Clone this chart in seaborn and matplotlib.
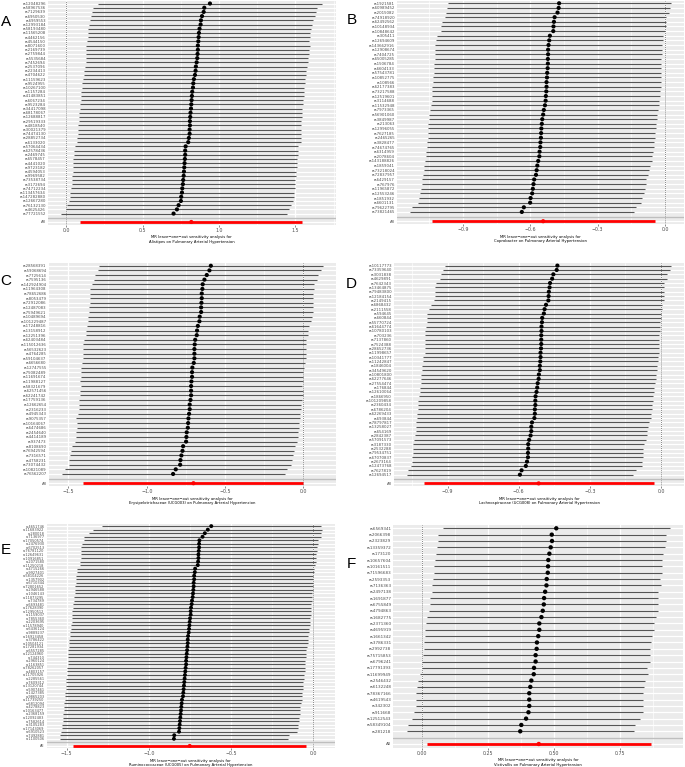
import numpy as np
import pandas as pd
import matplotlib
matplotlib.use("Agg")
import matplotlib.pyplot as plt
import seaborn as sns
from matplotlib.ticker import FixedLocator, MultipleLocator

W, H, DPI = 685, 767, 100

# ---------------- data ----------------
snps_A = ["rs12048296", "rs58967536", "rs7129639", "rs6950530", "rs6959553", "rs12993184", "rs58193480",
          "rs11565208", "rs4462156", "rs4544150", "rs8071600", "rs2169739", "rs2759844", "rs5535684",
          "rs7452694", "rs2537096", "rs2234413", "rs4704622", "rs11159623", "rs9524955", "rs10267100",
          "rs1157284", "rs41483851", "rs6067234", "rs9523284", "rs34417098", "rs68178067", "rs12688817",
          "rs29519333", "rs4818540", "rs30021379", "rs74474130", "rs28852734", "rs6133020", "rs57064434",
          "rs62578436", "rs2469745", "rs6578457", "rs4441020", "rs9723182", "rs4594053", "rs9969582",
          "rs73538734", "rs3172694", "rs74712234", "rs113457634", "rs147282880", "rs12667280",
          "rs76132130", "rs4625426", "rs77721552"]
b_A = [0.941, 0.904, 0.900, 0.889, 0.882, 0.880, 0.873, 0.869, 0.867, 0.865,
       0.862, 0.862, 0.860, 0.858, 0.854, 0.849, 0.847, 0.843, 0.836, 0.832,
       0.830, 0.825, 0.823, 0.821, 0.819, 0.817, 0.814, 0.812, 0.810, 0.810, 0.808,
       0.808, 0.803, 0.799, 0.782, 0.779, 0.779, 0.777, 0.775, 0.773, 0.771,
       0.769, 0.766, 0.764, 0.760, 0.758, 0.753, 0.751, 0.736, 0.725, 0.703]
lo_A = [0.207, 0.179, 0.170, 0.166, 0.155, 0.151, 0.144, 0.142, 0.140, 0.135,
        0.133, 0.131, 0.131, 0.127, 0.127, 0.122, 0.118, 0.114, 0.109, 0.107,
        0.105, 0.100, 0.098, 0.096, 0.092, 0.092, 0.087, 0.087, 0.083, 0.081, 0.079,
        0.076, 0.074, 0.070, 0.057, 0.052, 0.052, 0.048, 0.046, 0.044, 0.044,
        0.039, 0.039, 0.037, 0.031, 0.028, 0.024, 0.022, 0.007, 0.000, -0.033]
up_A = [1.677, 1.640, 1.633, 1.629, 1.616, 1.611, 1.600, 1.598, 1.596, 1.592,
        1.594, 1.592, 1.590, 1.585, 1.583, 1.574, 1.572, 1.568, 1.566, 1.561,
        1.557, 1.555, 1.555, 1.552, 1.550, 1.546, 1.544, 1.541, 1.539, 1.539, 1.539,
        1.539, 1.539, 1.535, 1.517, 1.515, 1.515, 1.513, 1.511, 1.509, 1.507,
        1.504, 1.498, 1.498, 1.496, 1.493, 1.489, 1.485, 1.474, 1.459, 1.445]
all_A = [0.819, 0.094, 1.541]

snps_B = ["rs1921581", "rs60989452", "rs2015082", "rs74918920", "rs62492562", "rs10148934", "rs10848642",
          "rs305411", "rs12694609", "rs143662916", "rs12908674", "rs7404725", "rs65005285", "rs1506784",
          "rs6604133", "rs57543781", "rs10852775", "rs108566", "rs62177383", "rs73217588", "rs12519601",
          "rs3114688", "rs11532948", "rs7973365", "rs56901060", "rs3849987", "rs213063", "rs12996055",
          "rs7627185", "rs2465265", "rs3828477", "rs74674765", "rs6314959", "rs2078604", "rs143188826",
          "rs1859041", "rs73218024", "rs72837957", "rs6429157", "rs767976", "rs11965872", "rs12553246",
          "rs1851932", "rs6601131", "rs79622795", "rs73821465"]
b_B = [-0.472, -0.474, -0.479, -0.492, -0.495, -0.497, -0.498, -0.513, -0.516, -0.519,
       -0.521, -0.521, -0.522, -0.522, -0.523, -0.525, -0.526, -0.528, -0.528, -0.529,
       -0.531, -0.532, -0.535, -0.540, -0.543, -0.547, -0.549, -0.551,
       -0.552, -0.553, -0.555, -0.556, -0.559, -0.560, -0.565, -0.569, -0.572, -0.575,
       -0.583, -0.586, -0.589, -0.592, -0.599, -0.601, -0.629, -0.638]
lo_B = [-0.967, -0.971, -0.974, -0.982, -0.995, -0.996, -0.998, -1.014, -1.020, -1.023,
        -1.023, -1.025, -1.026, -1.028, -1.029, -1.031, -1.032, -1.034, -1.036, -1.036,
        -1.038, -1.039, -1.042, -1.048, -1.050, -1.053, -1.056, -1.057,
        -1.056, -1.057, -1.059, -1.060, -1.065, -1.066, -1.071, -1.072, -1.072, -1.077,
        -1.082, -1.084, -1.088, -1.091, -1.097, -1.100, -1.127, -1.136]
up_B = [0.025, 0.024, 0.019, 0.003, 0.003, 0.003, 0.001, -0.007, -0.010, -0.013,
        -0.013, -0.015, -0.018, -0.018, -0.018, -0.019, -0.019, -0.019, -0.019, -0.021,
        -0.022, -0.025, -0.025, -0.031, -0.034, -0.037, -0.040, -0.042,
        -0.043, -0.044, -0.049, -0.049, -0.053, -0.056, -0.059, -0.067, -0.073, -0.074,
        -0.085, -0.087, -0.090, -0.092, -0.104, -0.105, -0.130, -0.138]
all_B = [-0.543, -1.039, -0.046]

snps_C = ["rs28568391", "rs59068694", "rs7725614", "rs7595136", "rs142924904", "rs11964308", "rs78652686",
          "rs8053479", "rs72912086", "rs12487083", "rs75949621", "rs10489694", "rs101229487", "rs17248816",
          "rs13158912", "rs12251396", "rs62403484", "rs115012636", "rs56532623", "rs4764285", "rs59104637",
          "rs6656680", "rs12747555", "rs75082489", "rs11691674", "rs11988127", "rs58321679", "rs62571456",
          "rs62241742", "rs17759136", "rs12662654", "rs2316233", "rs4945343", "rs9075357", "rs10164067",
          "rs6474686", "rs2454640", "rs4414189", "rs937473", "rs8108690", "rs76942594", "rs7316571",
          "rs4758231", "rs73074432", "rs10821089", "rs76562207"]
b_C = [-0.591, -0.600, -0.617, -0.632, -0.643, -0.645, -0.649, -0.649, -0.651, -0.653,
       -0.653, -0.662, -0.664, -0.674, -0.679, -0.681, -0.691, -0.694, -0.696, -0.696,
       -0.696, -0.700, -0.709, -0.711, -0.711, -0.715,
       -0.717, -0.717, -0.717, -0.721, -0.726, -0.726, -0.730, -0.734, -0.736, -0.738,
       -0.745, -0.747, -0.749, -0.768, -0.772, -0.779, -0.785, -0.787, -0.815, -0.832]
lo_C = [-1.304, -1.313, -1.330, -1.338, -1.349, -1.362, -1.362, -1.362, -1.364, -1.368,
        -1.368, -1.374, -1.374, -1.381, -1.385, -1.389, -1.404, -1.406, -1.406, -1.409,
        -1.409, -1.413, -1.417, -1.419, -1.421, -1.426,
        -1.421, -1.426, -1.426, -1.430, -1.436, -1.436, -1.438, -1.449, -1.443, -1.447,
        -1.453, -1.453, -1.457, -1.477, -1.483, -1.489, -1.494, -1.496, -1.523, -1.543]
up_C = [0.123, 0.113, 0.096, 0.085, 0.068, 0.070, 0.064, 0.064, 0.062, 0.062,
        0.064, 0.055, 0.047, 0.036, 0.032, 0.032, 0.019, 0.019, 0.017, 0.017,
        0.015, 0.011, 0.004, 0.000, -0.002, -0.002,
        -0.006, 0.000, 0.000, -0.011, -0.017, -0.015, -0.019, -0.021, -0.026, -0.028,
        -0.034, -0.036, -0.043, -0.053, -0.060, -0.064, -0.070, -0.077, -0.106, -0.119]
all_C = [-0.702, -1.406, -0.001]

snps_D = ["rs10117773", "rs73359640", "rs3031838", "rs4629891", "rs7642343", "rs13464875", "rs79483800",
          "rs12184154", "rs2149415", "rs6868432", "rs2111558", "rs594645", "rs660844", "rs55770724",
          "rs61644774", "rs10780103", "rs703236", "rs7137860", "rs7524388", "rs28652736", "rs11998657",
          "rs10341777", "rs11242847", "rs1846004", "rs34549620", "rs10801800", "rs62277646", "rs27554474",
          "rs176844", "rs12610064", "rs1866950", "rs101209858", "rs2360434", "rs6786204", "rs62269433",
          "rs693844", "rs78797817", "rs13258027", "rs654169", "rs2842387", "rs57091573", "rs3187330",
          "rs2532288", "rs79534751", "rs67070837", "rs2673164", "rs12473768", "rs7627819", "rs12694517"]
b_D = [-0.437, -0.440, -0.454, -0.459, -0.468, -0.470, -0.473, -0.474, -0.475, -0.485,
       -0.491, -0.494, -0.501, -0.502, -0.504, -0.504, -0.505, -0.505, -0.505, -0.506,
       -0.508, -0.508, -0.509, -0.511, -0.511, -0.515, -0.516, -0.520,
       -0.522, -0.525, -0.529, -0.530, -0.530, -0.532, -0.532, -0.534, -0.544, -0.547,
       -0.547, -0.550, -0.556, -0.560, -0.560, -0.561, -0.561, -0.565, -0.570, -0.588, -0.595]
lo_D = [-0.911, -0.921, -0.928, -0.932, -0.947, -0.951, -0.952, -0.954, -0.958, -0.968,
        -0.980, -0.985, -0.986, -0.986, -0.992, -0.993, -0.994, -0.996, -0.996, -0.996,
        -0.997, -1.003, -1.004, -1.006, -1.007, -1.010, -1.011, -1.013,
        -1.015, -1.016, -1.019, -1.024, -1.024, -1.025, -1.030, -1.028, -1.031, -1.032,
        -1.034, -1.038, -1.042, -1.044, -1.045, -1.046, -1.048, -1.051, -1.055, -1.065, -1.070]
up_D = [0.041, 0.039, 0.025, 0.025, 0.014, 0.014, 0.013, 0.011, 0.011, 0.004,
        0.003, 0.000, -0.001, -0.003, -0.004, -0.004, -0.007, -0.007, -0.007, -0.007,
        -0.007, -0.011, -0.014, -0.017, -0.018, -0.021, -0.023, -0.024,
        -0.028, -0.030, -0.032, -0.035, -0.037, -0.039, -0.042, -0.044, -0.052, -0.056,
        -0.059, -0.060, -0.065, -0.073, -0.075, -0.075, -0.077, -0.080, -0.082, -0.107, -0.117]
all_D = [-0.516, -1.000, -0.031]

snps_E = ["rs4651746", "rs11683922", "rs280018", "rs7136977", "rs17050574", "rs2476930", "rs6702513",
          "rs76781120", "rs12649631", "rs10916851", "rs2071580", "rs11250218", "rs4715266", "rs9927401",
          "rs58104226", "rs1357902", "rs6710344", "rs72801652", "rs2946588", "rs1046143", "rs11873295",
          "rs734789", "rs6693481", "rs17628390", "rs12950512", "rs1159037", "rs7855360", "rs2203695",
          "rs11578940", "rs6436124", "rs9889237", "rs16913458", "rs3786422", "rs10504121", "rs17281934",
          "rs6557285", "rs12124960", "rs744310", "rs2960124", "rs1163851", "rs78262057", "rs4803157",
          "rs11705926", "rs2285561", "rs7609312", "rs13120744", "rs5907461", "rs1427385", "rs9865203",
          "rs11739250", "rs6812094", "rs4278823", "rs10163477", "rs2368159", "rs12092483", "rs7582614",
          "rs3105283", "rs17143069", "rs6910523", "rs7492881", "rs1100506"]
b_E = [-0.620, -0.641, -0.659, -0.673, -0.692, -0.694, -0.694, -0.696, -0.698, -0.698,
       -0.700, -0.702, -0.718, -0.720, -0.724, -0.724, -0.727, -0.727, -0.729, -0.731,
       -0.733, -0.737, -0.739, -0.743, -0.745, -0.745, -0.749, -0.751, -0.753, -0.755,
       -0.757, -0.761, -0.763, -0.763,
       -0.765, -0.767, -0.769, -0.771, -0.773, -0.773, -0.776, -0.778, -0.780, -0.782,
       -0.784, -0.786, -0.788, -0.790, -0.792, -0.798, -0.800, -0.802, -0.804, -0.806,
       -0.808, -0.810, -0.812, -0.814, -0.816, -0.845, -0.847]
lo_E = [-1.282, -1.337, -1.363, -1.392, -1.396, -1.408, -1.410, -1.410, -1.412, -1.414,
        -1.416, -1.420, -1.435, -1.437, -1.441, -1.443, -1.445, -1.447, -1.449, -1.451,
        -1.453, -1.457, -1.459, -1.463, -1.465, -1.465, -1.467, -1.469, -1.471, -1.473,
        -1.476, -1.480, -1.484, -1.486,
        -1.488, -1.490, -1.490, -1.492, -1.492, -1.494, -1.496, -1.496, -1.498, -1.502,
        -1.504, -1.504, -1.506, -1.508, -1.510, -1.512, -1.514, -1.516, -1.518, -1.520,
        -1.522, -1.524, -1.527, -1.529, -1.531, -1.539, -1.541]
up_E = [0.045, 0.051, 0.045, 0.045, 0.031, 0.027, 0.024, 0.022, 0.018, 0.016,
        0.014, 0.012, 0.004, 0.002, 0.000, 0.000, -0.002, -0.002, -0.004, -0.006,
        -0.008, -0.010, -0.012, -0.014, -0.016, -0.016, -0.018, -0.020, -0.022, -0.024,
        -0.027, -0.029, -0.031, -0.033,
        -0.037, -0.041, -0.043, -0.045, -0.047, -0.049, -0.051, -0.053, -0.057, -0.059,
        -0.061, -0.063, -0.065, -0.067, -0.069, -0.071, -0.073, -0.078, -0.080, -0.082,
        -0.084, -0.088, -0.090, -0.094, -0.096, -0.147, -0.151]
all_E = [-0.751, -1.461, -0.041]

snps_F = ["rs6569341", "rs2066398", "rs2323829", "rs13359372", "rs173120", "rs10657604", "rs10161511",
          "rs71596683", "rs2593353", "rs7136363", "rs2497138", "rs1691877", "rs6755849", "rs4794863",
          "rs1682775", "rs2371360", "rs4695919", "rs1661342", "rs3786331", "rs2992738", "rs75715853",
          "rs6796241", "rs17791393", "rs11699949", "rs2546432", "rs6132248", "rs78367166", "rs4619543",
          "rs342302", "rs911668", "rs12512543", "rs58349104", "rs281218"]
b_F = [0.508, 0.491, 0.492, 0.487, 0.482, 0.478, 0.477, 0.476, 0.472, 0.471,
       0.466, 0.462, 0.461, 0.457, 0.452, 0.444, 0.444, 0.440, 0.435, 0.434,
       0.430, 0.430, 0.424, 0.423, 0.414, 0.410, 0.406, 0.406, 0.406, 0.403,
       0.394, 0.376, 0.372]
lo_F = [0.079, 0.063, 0.063, 0.058, 0.053, 0.050, 0.048, 0.045, 0.042, 0.039,
        0.039, 0.033, 0.033, 0.026, 0.021, 0.015, 0.014, 0.011, 0.008, 0.008,
        0.003, 0.001, 0.000, -0.008, -0.016, -0.019, -0.023, -0.020, -0.023, -0.028,
        -0.035, -0.053, -0.057]
up_F = [0.937, 0.921, 0.921, 0.919, 0.912, 0.908, 0.908, 0.907, 0.901, 0.903,
        0.893, 0.893, 0.891, 0.891, 0.883, 0.876, 0.878, 0.871, 0.867, 0.862,
        0.861, 0.861, 0.852, 0.856, 0.844, 0.841, 0.837, 0.834, 0.836, 0.834,
        0.824, 0.807, 0.802]
all_F = [0.442, 0.020, 0.866]

outcome = "Pulmonary Arterial Hypertension"
exposure_A = "Alistipes"
exposure_B = "Coprobacter"
exposure_C = "Erysipelotrichaceae (UCG003)"
exposure_D = "Lachnospiraceae (UCG008)"
exposure_E = "Ruminococcaceae (UCG005)"
exposure_F = "Victivallis"

ticks_A = [0.0, 0.5, 1.0, 1.5]
ticks_B = [-0.9, -0.6, -0.3, 0.0]
ticks_C = [-1.5, -1.0, -0.5, 0.0]
ticks_D = [-0.9, -0.6, -0.3, 0.0]
ticks_E = [-1.5, -1.0, -0.5, 0.0]
ticks_F = [0.00, 0.25, 0.50, 0.75]

# ---------------- style ----------------
sns.set_theme(style="darkgrid")
plt.rcParams['font.family'] = ['DejaVu Sans']
plt.rcParams['axes.unicode_minus'] = True

fig = plt.figure(figsize=(W / DPI, H / DPI), dpi=DPI)


def add_ax(l, t, r, b):
    return fig.add_axes([l / W, 1 - b / H, (r - l) / W, (b - t) / H])


def panel(ax, snps, b, lo, up, allv, exposure, ticks, fmt, ysize, psize):
    n = len(snps)
    df = pd.DataFrame({
        "SNP": list(snps) + ["", "All"],
        "pos": np.arange(n + 2),
        "b": list(b) + [np.nan, allv[0]],
        "lo": list(lo) + [np.nan, allv[1]],
        "up": list(up) + [np.nan, allv[2]],
        "tot": ["snp"] * n + ["gap", "all"],
    })
    ax.set_facecolor("#EBEBEB")
    ax.set_axisbelow(True)
    ax.axvline(0, color="#444444", lw=0.55, ls=(0, (1, 1.6)), zorder=1)
    snp = df[df.tot == "snp"]
    ax.hlines(snp.pos, snp.lo, snp.up, color="#555555", lw=0.8, zorder=2)
    ax.axhline(n, color="#BEBEBE", lw=1.0, zorder=1.5)
    al = df[df.tot == "all"]
    ax.hlines(al.pos, al.lo, al.up, color="#FF0000", lw=2.0, zorder=2)
    sub = df[df.tot != "gap"]
    sns.scatterplot(data=sub, x="b", y="pos", hue="tot", palette={"snp": "black", "all": "red"},
                    s=psize, linewidth=0, marker="o", legend=False, ax=ax, zorder=3)
    lo_min = min(np.nanmin(df.lo), 0.0)
    up_max = max(np.nanmax(df.up), 0.0)
    rng = up_max - lo_min
    ax.set_xlim(lo_min - 0.05 * rng, up_max + 0.05 * rng)
    ax.set_ylim(n + 1 + 0.6, -0.6)
    ax.yaxis.set_major_locator(FixedLocator(df.pos.tolist()))
    ax.set_yticklabels(df.SNP.tolist())
    ax.xaxis.set_major_locator(FixedLocator(ticks))
    ax.set_xticklabels([fmt.format(t).replace("-", "\u2212") for t in ticks])
    step = ticks[1] - ticks[0]
    ax.xaxis.set_minor_locator(MultipleLocator(step / 2))
    ax.grid(which="major", axis="both", color="white", lw=0.9)
    ax.grid(which="minor", axis="x", color="white", lw=0.45)
    ax.grid(which="minor", axis="y", visible=False)
    for s in ax.spines.values():
        s.set_visible(False)
    ax.tick_params(axis="y", which="both", length=0, labelsize=ysize, labelcolor="#4D4D4D", pad=1.6)
    ax.tick_params(axis="x", which="major", length=1.6, width=0.4, color="#333333",
                   labelsize=3.4, labelcolor="#4D4D4D", pad=0.6, bottom=True)
    ax.tick_params(axis="x", which="minor", length=0)
    ax.set_xlabel("MR leave\u2212one\u2212out sensitivity analysis for\n"
                  f"{exposure} on {outcome}", fontsize=2.7, color="black", labelpad=1.8,
                  linespacing=1.25)
    ax.set_ylabel("")


axA = add_ax(48, 1, 335.5, 224.5)
panel(axA, snps_A, b_A, lo_A, up_A, all_A, exposure_A, ticks_A, "{:.1f}", 2.75, 9)
axB = add_ax(397, 0.5, 683.7, 224)
panel(axB, snps_B, b_B, lo_B, up_B, all_B, exposure_B, ticks_B, "{:.1f}", 2.75, 9)
axC = add_ax(48.7, 263, 335.7, 486)
panel(axC, snps_C, b_C, lo_C, up_C, all_C, exposure_C, ticks_C, "{:.1f}", 2.75, 9)
axD = add_ax(394, 263, 684, 486)
panel(axD, snps_D, b_D, lo_D, up_D, all_D, exposure_D, ticks_D, "{:.1f}", 2.75, 9)
axE = add_ax(46.7, 524, 334.7, 748)
panel(axE, snps_E, b_E, lo_E, up_E, all_E, exposure_E, ticks_E, "{:.1f}", 2.5, 8)
axF = add_ax(393.5, 524.5, 683, 747.8)
panel(axF, snps_F, b_F, lo_F, up_F, all_F, exposure_F, ticks_F, "{:.2f}", 3.0, 10)

letters = [("A", 6, 22), ("B", 352, 20), ("C", 6, 281), ("D", 351, 284), ("E", 6, 550), ("F", 351, 564)]
for t, x, y in letters:
    fig.text(x / W, 1 - y / H, t, fontsize=11, family="Liberation Sans", ha="center", va="center",
             color="black")

fig.savefig("out.png", dpi=DPI, facecolor="white")
